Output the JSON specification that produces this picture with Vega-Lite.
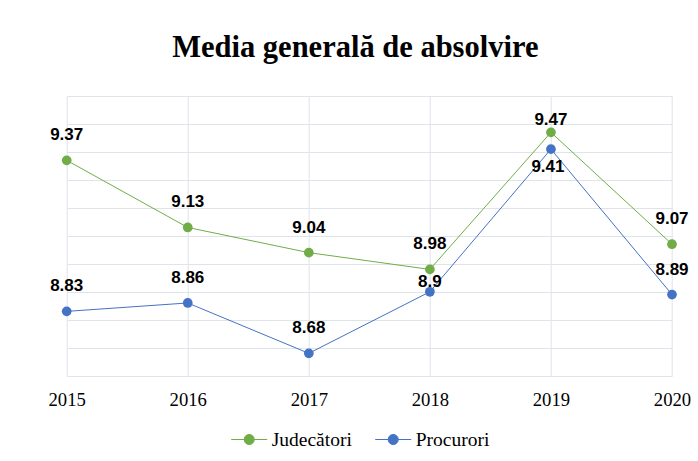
{
  "$schema": "https://vega.github.io/schema/vega-lite/v6.json",
  "autosize": {"type": "none"},
  "width": 605.3,
  "height": 279.7,
  "padding": {"left": 66.7, "top": 96, "right": 26, "bottom": 85.3},
  "background": "white",
  "title": {
    "text": "Media generală de absolvire",
    "font": "Liberation Serif",
    "fontSize": 30.5,
    "fontWeight": "bold",
    "color": "#000000",
    "anchor": "middle",
    "dx": -14,
    "offset": 33
  },
  "data": {
    "values": [
      {"year": "2015", "series": "Judecători", "value": 9.37},
      {"year": "2016", "series": "Judecători", "value": 9.13},
      {"year": "2017", "series": "Judecători", "value": 9.04},
      {"year": "2018", "series": "Judecători", "value": 8.98},
      {"year": "2019", "series": "Judecători", "value": 9.47},
      {"year": "2020", "series": "Judecători", "value": 9.07},
      {"year": "2015", "series": "Procurori", "value": 8.83},
      {"year": "2016", "series": "Procurori", "value": 8.86},
      {"year": "2017", "series": "Procurori", "value": 8.68},
      {"year": "2018", "series": "Procurori", "value": 8.9},
      {"year": "2019", "series": "Procurori", "value": 9.41},
      {"year": "2020", "series": "Procurori", "value": 8.89}
    ]
  },
  "encoding": {
    "x": {
      "field": "year", "type": "ordinal",
      "scale": {"type": "point", "padding": 0},
      "axis": {
        "title": null, "labelAngle": 0, "domain": false, "ticks": false, "tickSize": 0,
        "grid": true, "gridColor": "#dfe3ea", "gridWidth": 1,
        "labelFont": "Liberation Serif", "labelFontSize": 18.7, "labelColor": "#000000",
        "labelPadding": 15
      }
    },
    "y": {
      "field": "value", "type": "quantitative",
      "scale": {"domain": [8.6, 9.6], "nice": false, "zero": false},
      "axis": {
        "title": null, "labels": false, "ticks": false, "domain": false,
        "grid": true, "gridColor": "#dfe3ea", "gridWidth": 1,
        "values": [8.6, 8.7, 8.8, 8.9, 9.0, 9.1, 9.2, 9.3, 9.4, 9.5, 9.6]
      }
    }
  },
  "layer": [
    {
      "mark": {"type": "line", "strokeWidth": 1},
      "encoding": {
        "color": {
          "field": "series", "type": "nominal",
          "scale": {"domain": ["Judecători", "Procurori"], "range": ["#70AD47", "#4472C4"]},
          "legend": {
            "title": null,
            "orient": "none",
            "legendX": 164,
            "legendY": 325,
            "direction": "horizontal",
            "symbolType": "M-1,0L1,0M-0.28,0A0.28,0.28 0 1,0 0.28,0A0.28,0.28 0 1,0 -0.28,0Z",
            "symbolSize": 1296,
            "symbolStrokeWidth": 1,
            "labelFont": "Liberation Serif",
            "labelFontSize": 19.5,
            "labelColor": "#000000",
            "labelOffset": 4,
            "columnPadding": 20,
            "encode": {
              "symbols": {"update": {"fill": {"scale": "color", "field": "value"}, "stroke": {"scale": "color", "field": "value"}, "fillOpacity": {"value": 1}}}
            }
          }
        }
      }
    },
    {
      "mark": {"type": "point", "filled": true, "size": 95, "opacity": 1},
      "encoding": {
        "color": {"field": "series", "type": "nominal", "legend": null}
      }
    },
    {
      "transform": [{"filter": "!((datum.series == 'Judecători' && datum.year == '2019') || (datum.series == 'Procurori' && (datum.year == '2019' || datum.year == '2018')))"}],
      "mark": {"type": "text", "dy": -25, "font": "Liberation Sans", "fontWeight": "bold", "fontSize": 17, "color": "#000000", "baseline": "middle"},
      "encoding": {"text": {"field": "value", "type": "quantitative"}}
    },
    {
      "transform": [{"filter": "datum.series == 'Judecători' && datum.year == '2019'"}],
      "mark": {"type": "text", "dy": -12, "font": "Liberation Sans", "fontWeight": "bold", "fontSize": 17, "color": "#000000", "baseline": "middle"},
      "encoding": {"text": {"field": "value", "type": "quantitative"}}
    },
    {
      "transform": [{"filter": "datum.series == 'Procurori' && datum.year == '2019'"}],
      "mark": {"type": "text", "dy": 18, "dx": -3, "font": "Liberation Sans", "fontWeight": "bold", "fontSize": 17, "color": "#000000", "baseline": "middle"},
      "encoding": {"text": {"field": "value", "type": "quantitative"}}
    },
    {
      "transform": [{"filter": "datum.series == 'Procurori' && datum.year == '2018'"}],
      "mark": {"type": "text", "dy": -10, "font": "Liberation Sans", "fontWeight": "bold", "fontSize": 17, "color": "#000000", "baseline": "middle"},
      "encoding": {"text": {"field": "value", "type": "quantitative"}}
    }
  ],
  "config": {"view": {"stroke": null}}
}
